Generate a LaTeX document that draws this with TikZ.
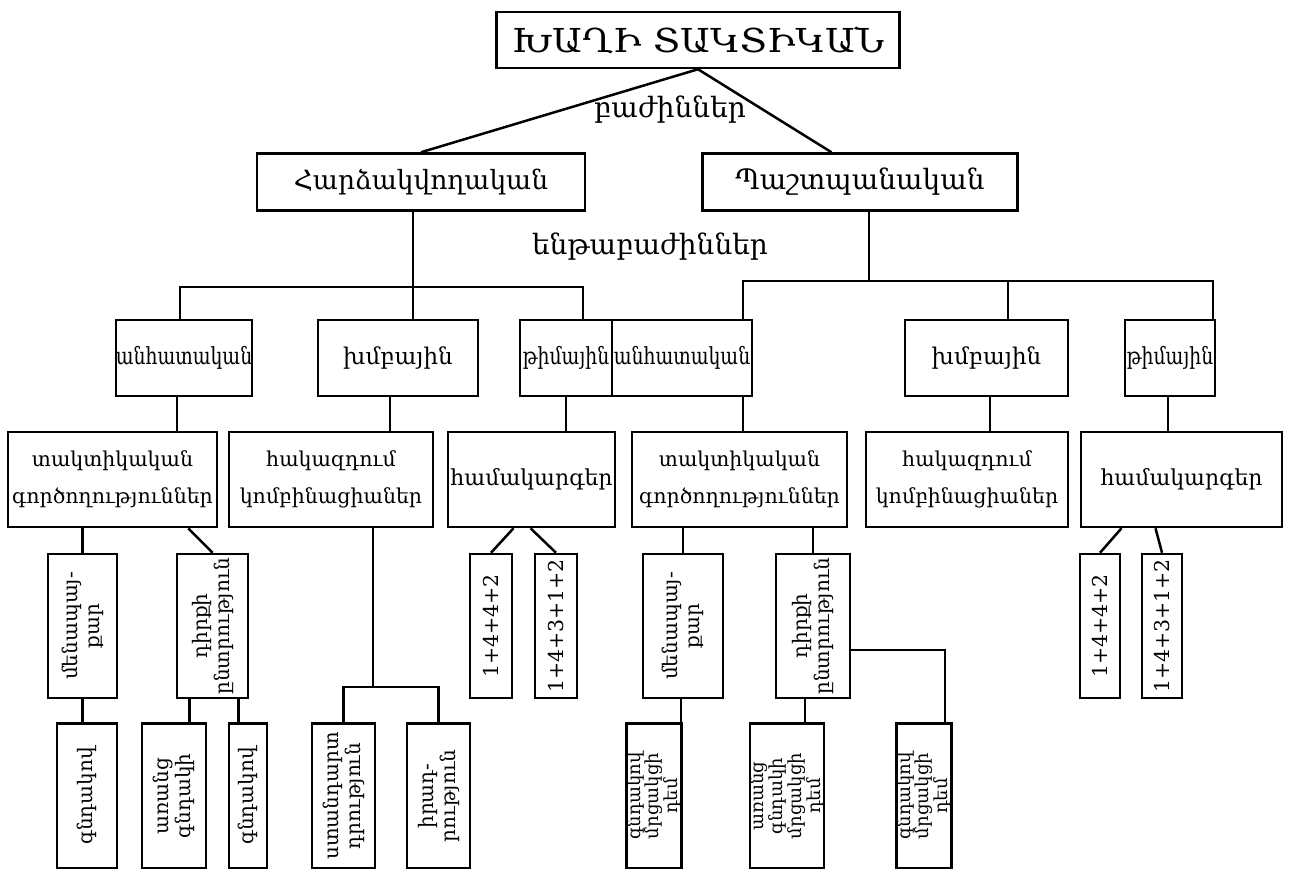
\documentclass[tikz,border=0pt]{standalone}
\usepackage{fontspec}
\setmainfont{DejaVu Serif}
\newfontfamily\titlefont[FakeStretch=1.12]{DejaVu Serif}
\newfontfamily\narrowfont[FakeStretch=0.8]{DejaVu Serif}
\usetikzlibrary{calc}
\begin{document}
\begin{tikzpicture}[x=1pt,y=-1pt,
  box/.style={draw, line width=2.5pt, inner sep=0pt, align=center},
  conn/.style={line width=2.5pt},
  ttl/.style={font=\titlefont\fontsize{33}{36}\selectfont},
  sec/.style={font=\fontsize{26.5}{30}\selectfont},
  lbl/.style={font=\fontsize{28}{30}\selectfont},
  nar/.style={font=\narrowfont\fontsize{23.5}{26}\selectfont},
  two/.style={font=\fontsize{20.5}{37}\selectfont},
  one/.style={font=\fontsize{22}{25}\selectfont},
  rot/.style={box, rotate=90, font=\fontsize{20}{22}\selectfont},
  num/.style={box, rotate=90, font=\fontsize{20.5}{22}\selectfont},
  rsm/.style={box, rotate=90, font=\fontsize{18}{16.5}\selectfont},
]
\useasboundingbox (0,0) rectangle (1289,869);

% top and the two sections
\node[box, ttl, minimum width=403, minimum height=56] (title) at (698,40) {ԽԱՂԻ ՏԱԿՏԻԿԱՆ};
\node[box, sec, minimum width=328, minimum height=57] (harj) at (421,182) {Հարձակվողական};
\node[box, sec, minimum width=315, minimum height=57, font=\fontsize{28}{30}\selectfont] (pasht) at (860,182) {Պաշտպանական};
\node[lbl] (bazh) at (670,110) {բաժիններ};
\node[lbl] (entha) at (650,247) {ենթաբաժիններ};

% subsections
\node[box, nar, minimum width=132, minimum height=76] (anhL) at (184,358) {անհատական};
\node[box, font=\fontsize{23}{26}\selectfont, minimum width=160, minimum height=76] (xmbL) at (398,358) {խմբային};
\node[box, nar, minimum width=92, minimum height=76] (timL) at (566,358) {թիմային};
\node[box, nar, minimum width=140, minimum height=76] (anhR) at (682,358) {անհատական};
\node[box, font=\fontsize{23}{26}\selectfont, minimum width=163, minimum height=76] (xmbR) at (986.5,358) {խմբային};
\node[box, nar, minimum width=90, minimum height=76] (timR) at (1170,358) {թիմային};

% third level
\node[box, two, minimum width=209, minimum height=95] (tactL) at (112.5,479.5) {տակտիկական\\գործողություններ};
\node[box, two, minimum width=204, minimum height=95] (hakL) at (331,479.5) {հակազդում\\կոմբինացիաներ};
\node[box, one, minimum width=167, minimum height=95] (hamL) at (531.5,479.5) {համակարգեր};
\node[box, two, minimum width=215, minimum height=95] (tactR) at (739.5,479.5) {տակտիկական\\գործողություններ};
\node[box, two, minimum width=202, minimum height=95] (hakR) at (967,479.5) {հակազդում\\կոմբինացիաներ};
\node[box, one, minimum width=201, minimum height=95] (hamR) at (1181.5,479.5) {համակարգեր};

% upright-turned boxes, fourth level
\node[rot, minimum width=144, minimum height=69] (b1L) at (82.5,626) {մենապայ-\\քար};
\node[rot, minimum width=144, minimum height=71] (b2L) at (212.5,626) {դիրքի\\ընտրություն};
\node[num, minimum width=144, minimum height=42] (n1L) at (491,626) {1+4+4+2};
\node[num, minimum width=144, minimum height=42] (n2L) at (556,626) {1+4+3+1+2};
\node[rot, minimum width=144, minimum height=80] (b1R) at (683,626) {մենապայ-\\քար};
\node[rot, minimum width=144, minimum height=74] (b2R) at (813,626) {դիրքի\\ընտրություն};
\node[num, minimum width=144, minimum height=40] (n1R) at (1100,626) {1+4+4+2};
\node[num, minimum width=144, minimum height=40] (n2R) at (1162,626) {1+4+3+1+2};

% fifth level
\node[rot, minimum width=145, minimum height=60] (b4L) at (87,796) {գնդակով};
\node[rot, minimum width=145, minimum height=64] (b5L) at (174,796) {առանց\\գնդակի};
\node[rot, minimum width=145, minimum height=38] (b6L) at (248,796) {գնդակով};
\node[rot, minimum width=145, minimum height=63] (b7L) at (343.5,796) {ստանդարտ\\դրություն};
\node[rot, minimum width=145, minimum height=63] (b8L) at (438.5,796) {իրադ-\\րություն};
\node[rsm, minimum width=145, minimum height=52] (r3) at (654,796) {գնդակով\\մրցակցի\\դեմ};
\node[rsm, minimum width=145, minimum height=70] (r4) at (787,796) {առանց\\գնդակի\\մրցակցի\\դեմ};
\node[rsm, minimum width=145, minimum height=48] (r5) at (924,796) {գնդակով\\մրցակցի\\դեմ};

% junction points
\coordinate (jL) at (413,287);
\coordinate (jLa) at (180,287);
\coordinate (jLc) at (583,287);
\coordinate (jR) at (869,281);
\coordinate (jRa) at (743,281);
\coordinate (jRb) at (1008,281);
\coordinate (jRc) at (1213,281);
\coordinate (jK) at (373,687);
\coordinate (jG) at (945,650);

\begin{scope}[conn]
\draw (harj.north) -- (title.south) -- ($(pasht.north west)!0.41!(pasht.north east)$);
% attack branch
\draw (harj.south -| jL) -- (xmbL.north -| jL);
\draw (jLa |- anhL.north) -- (jLa) -- (jLc) -- (jLc |- timL.north);
% defence branch
\draw (pasht.south -| jR) -- (jR);
\draw (jRa |- anhR.north) -- (jRa) -- (jRc) -- (jRc |- timR.north);
\draw (jRb) -- (jRb |- xmbR.north);

% subsection to third level
\draw (anhL.south -| 177,0) -- (tactL.north -| 177,0);
\draw (xmbL.south -| 390,0) -- (hakL.north -| 390,0);
\draw (timL.south) -- (timL.south |- hamL.north);
\draw (anhR.south -| jRa) -- (tactR.north -| jRa);
\draw (xmbR.south -| 990,0) -- (hakR.north -| 990,0);
\draw (timR.south -| 1168,0) -- (hamR.north -| 1168,0);

% third to fourth level
\draw (b1L.east |- tactL.south) -- (b1L.east);
\draw ($(tactL.south east)+(-30,0)$) -- (b2L.east);
\draw ($(hamL.south)+(-18,0)$) -- (n1L.east);
\draw ($(hamL.south)+(-1,0)$) -- (n2L.east);
\draw (b1R.east |- tactR.south) -- (b1R.east);
\draw (b2R.east |- tactR.south) -- (b2R.east);
\draw ($(hamR.south)+(-60,0)$) -- (n1R.east);
\draw ($(hamR.south)+(-26,0)$) -- (n2R.east);

\draw (hakL.south -| jK) -- (jK);
\draw (b7L.east) |- (jK) -| (b8L.east);

% fourth to fifth level
\draw (b1L.west) -- (b1L.west |- b4L.east);
\draw ($(b2L.west)+(-23,0)$) -- ($(b2L.west)+(-23,25)$);
\draw ($(b2L.west)+(26,0)$) -- ($(b2L.west)+(26,25)$);
\draw ($(b1R.west)+(-2,0)$) -- ($(b1R.west |- r3.east)+(-2,0)$);
\draw ($(b2R.west)+(-8,0)$) -- ($(b2R.west |- r4.east)+(-8,0)$);
\draw (b2R.south |- jG) -- (jG) -- (jG |- r5.east);
\end{scope}
\end{tikzpicture}
\end{document}
